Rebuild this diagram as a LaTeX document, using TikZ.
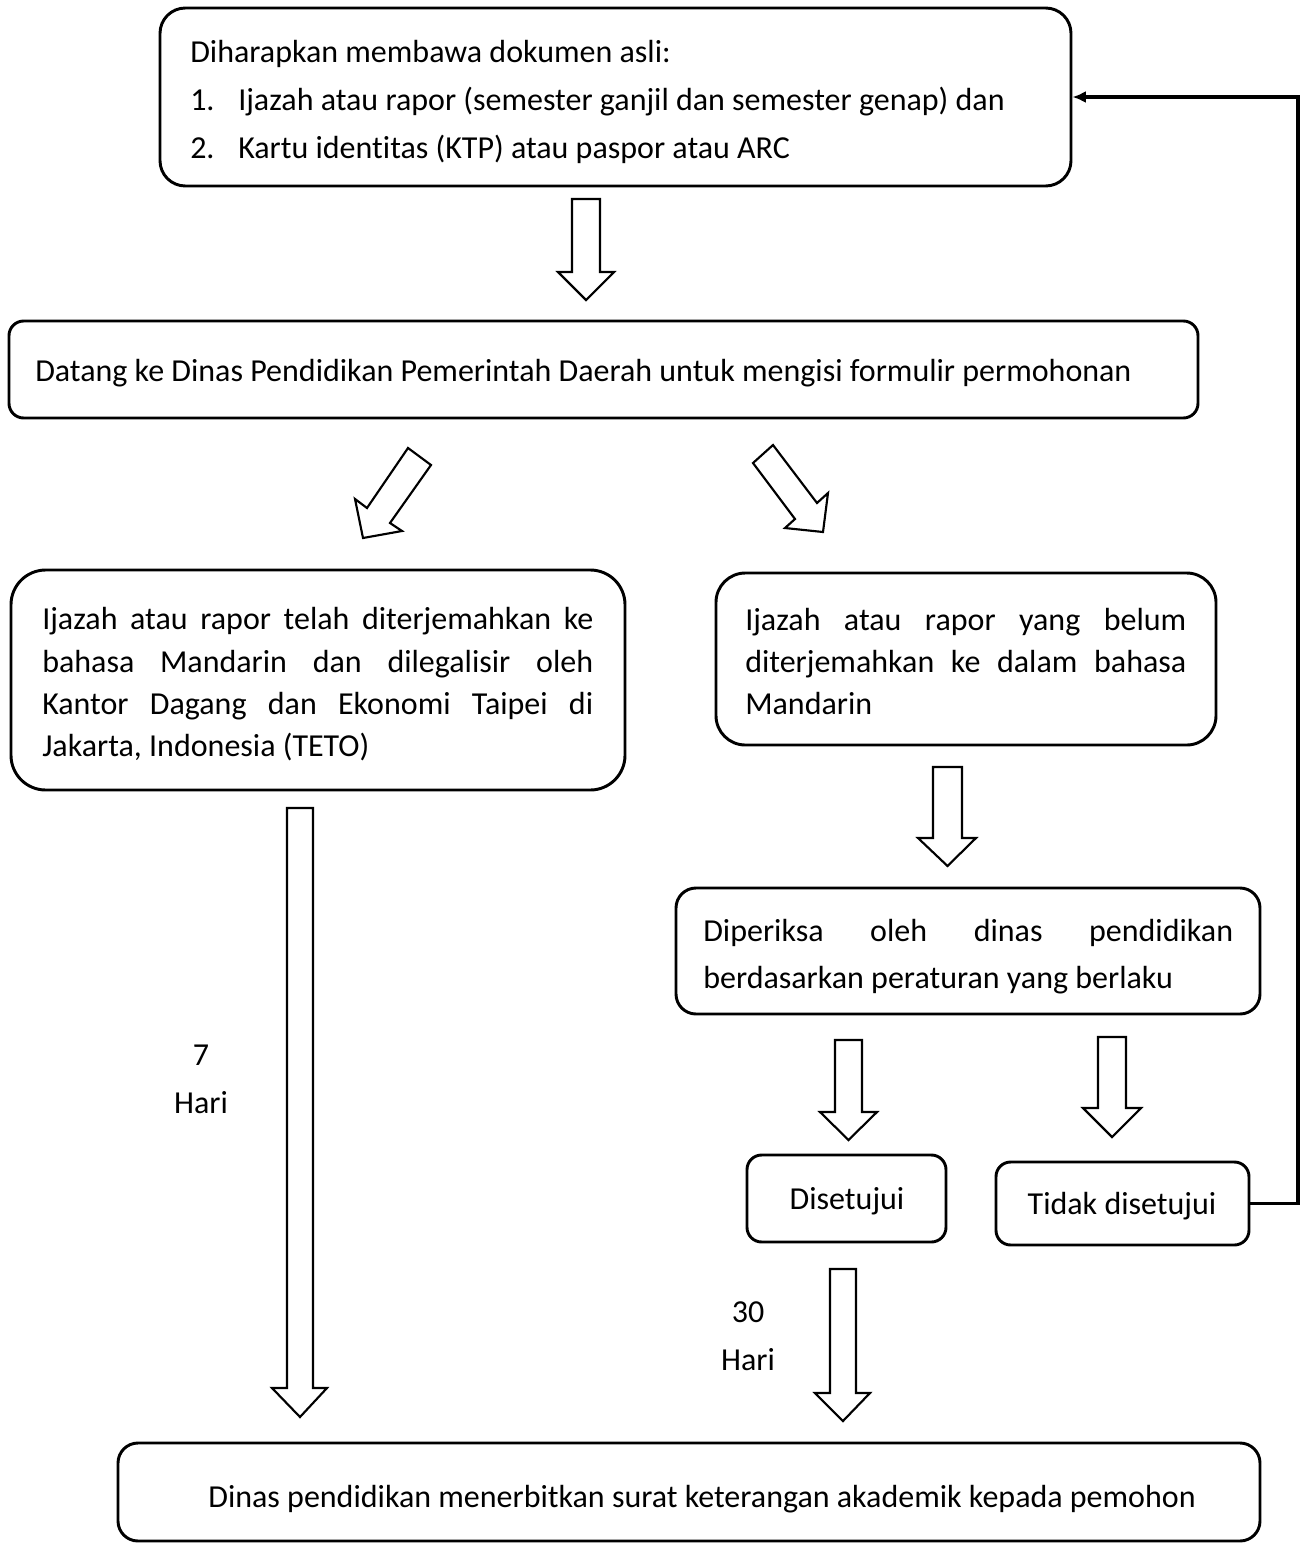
\documentclass[tikz,border=0pt]{standalone}
\usepackage{fontspec}
\setmainfont{Carlito}[Ligatures={NoCommon}]
\usetikzlibrary{fit,arrows.meta}
\newcommand\fs{\fontsize{24}{29}\selectfont}
\newcommand\blockdown[7]{%
  \draw[blk] (#1,#3) -- (#2,#3) -- (#2,#4) -- (#6,#4) -- ({(#1+#2)/2},#7) -- (#5,#4) -- (#1,#4) -- cycle;}
\begin{document}
\begin{tikzpicture}[x=0.75pt,y=-0.75pt]
\tikzset{
 box/.style={draw, line width=2.2pt, inner sep=0pt},
 blk/.style={draw, line width=1.6pt, line join=miter, fill=white},
 txt/.style={anchor=base west, inner sep=0pt, font=\fs},
 ctxt/.style={anchor=base, inner sep=0pt, font=\fs},
 feedback/.style={draw, line width=2.4pt, {-Latex[length=10pt,width=9pt]}}
}
\useasboundingbox (0,0) rectangle (1303,1543);
% boxes
\node[box, rounded corners=19pt, fit={(160,8) (1071,186)}] (b1) {};
\node[box, rounded corners=11pt, fit={(9,321) (1198,418)}] (b2) {};
\node[box, rounded corners=26pt, fit={(11,570) (625,790)}] (b3) {};
\node[box, rounded corners=22pt, fit={(716,573) (1216,745)}] (b4) {};
\node[box, rounded corners=15pt, fit={(676,888) (1260,1014)}] (b5) {};
\node[box, rounded corners=11pt, fit={(747,1155) (946,1242)}] (b6) {};
\node[box, rounded corners=11pt, fit={(996,1162) (1249,1245)}] (b7) {};
\node[box, rounded corners=15pt, fit={(118,1443) (1260,1541)}] (b8) {};
% texts
\node[txt] (t1a) at (190,62) {Diharapkan membawa dokumen asli:};
\node[txt] (t1n1) at (190,110) {1.};
\node[txt] (t1b) at (238,110) {Ijazah atau rapor (semester ganjil dan semester genap) dan};
\node[txt] (t1n2) at (190,158) {2.};
\node[txt] (t1c) at (238,158) {Kartu identitas (KTP) atau paspor atau ARC};
\node[txt] (t2) at (35,381) {Datang ke Dinas Pendidikan Pemerintah Daerah untuk mengisi formulir permohonan};
\node[txt] (t3a) at (42,629) {\makebox[413.25pt][s]{Ijazah atau rapor telah diterjemahkan ke}};
\node[txt] (t3b) at (42,672) {\makebox[413.25pt][s]{bahasa Mandarin dan dilegalisir oleh}};
\node[txt] (t3c) at (42,714) {\makebox[413.25pt][s]{Kantor Dagang dan Ekonomi Taipei di}};
\node[txt] (t3d) at (42,756) {Jakarta, Indonesia (TETO)};
\node[txt] (t4a) at (745,630) {\makebox[330.75pt][s]{Ijazah atau rapor yang belum}};
\node[txt] (t4b) at (745,672) {\makebox[330.75pt][s]{diterjemahkan ke dalam bahasa}};
\node[txt] (t4c) at (745,714) {Mandarin};
\node[txt] (t5a) at (703,941) {\makebox[397.5pt][s]{Diperiksa oleh dinas pendidikan}};
\node[txt] (t5b) at (703,988) {berdasarkan peraturan yang berlaku};
\node[ctxt] (t6) at (847,1209) {Disetujui};
\node[ctxt] (t7) at (1122,1214) {Tidak disetujui};
\node[ctxt] (t8) at (702,1507) {Dinas pendidikan menerbitkan surat keterangan akademik kepada pemohon};
\node[ctxt] (d7) at (201,1065) {7};
\node[ctxt] (h7) at (201,1113) {Hari};
\node[ctxt] (d30) at (748,1322) {30};
\node[ctxt] (h30) at (748,1370) {Hari};
% block arrows
\blockdown{572}{600}{199}{272}{558}{614}{300}
\blockdown{287}{313}{808}{1388}{272}{327}{1417}
\blockdown{933}{962}{767}{838}{918}{976}{866}
\blockdown{835}{862}{1040}{1112}{820}{877}{1140}
\blockdown{1098}{1126}{1037}{1108}{1083}{1141}{1137}
\blockdown{830}{856}{1269}{1393}{815}{870}{1421}
\draw[blk] (408,448) -- (431,465) -- (390,523) -- (402,531) -- (363,538) -- (355,499) -- (367,508) -- cycle;
\draw[blk] (753,463) -- (773,445) -- (817,503) -- (828,493) -- (823,532) -- (785,528) -- (795,519) -- cycle;
% feedback
\coordinate (fbc) at (1298,97);
\draw[line width=2.4pt, -{Latex[length=10pt,width=9pt]}] (b7.east) -| (fbc) -- (b1.east);
\end{tikzpicture}
\end{document}
